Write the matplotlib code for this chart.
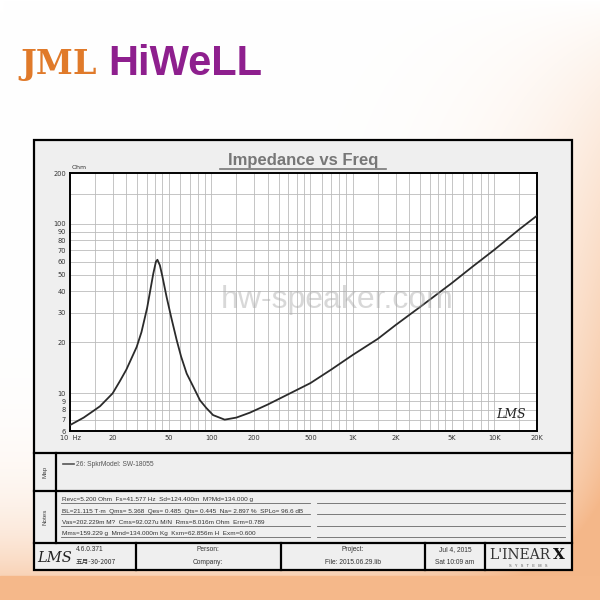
import numpy as np
import matplotlib
matplotlib.use("Agg")
import matplotlib.pyplot as plt

# impedance curve (Hz, Ohm)
freq = [10, 12.5, 15, 16.3, 20, 22.5, 25, 29.6, 32, 35.1, 38.8, 40.5, 41.5, 43.2,
        45, 48.2, 52, 56.8, 61, 66.8, 75, 83, 92, 102.6, 124, 150, 187, 250, 350,
        500, 700, 1000, 1500, 2000, 3000, 5000, 7000, 10000, 15000, 20000]
ohm = [6.5, 7.2, 8.0, 8.4, 10, 11.8, 13.8, 18.8, 23, 32, 51, 60, 61.5, 57,
       49, 37, 28, 20.6, 16.5, 13.1, 10.8, 9.1, 8.2, 7.45, 7.0, 7.2, 7.7, 8.6, 9.9,
       11.5, 13.8, 16.9, 21, 25.3, 32.5, 44.8, 56, 70.5, 93, 112]

x_ticks = [10, 20, 50, 100, 200, 500, 1000, 2000, 5000, 10000, 20000]
x_labels = ["10  Hz", "20", "50", "100", "200", "500", "1K", "2K", "5K", "10K", "20K"]
y_ticks = [6, 7, 8, 9, 10, 20, 30, 40, 50, 60, 70, 80, 90, 100, 200]
y_labels = ["6", "7", "8", "9", "10", "20", "30", "40", "50", "60", "70", "80", "90", "100", "200"]

notes = [
    "Revc=5.200 Ohm  Fs=41.577 Hz  Sd=124.400m  M?Md=134.000 g",
    "BL=21.115 T·m  Qms= 5.368  Qes= 0.485  Qts= 0.445  Na= 2.897 %  SPLo= 96.6 dB",
    "Vas=202.229m M?  Cms=92.027u M/N  Rms=8.016m Ohm  Erm=0.789",
    "Mms=159.229 g  Mmd=134.000m Kg  Kxm=62.856m H  Exm=0.600",
]
legend_text = "26: SpkrModel: SW-18055"

W, H = 600, 600
fig = plt.figure(figsize=(6, 6), dpi=100)

# background layer in pixel coords
bg = fig.add_axes([0, 0, 1, 1])
bg.set_xlim(0, W)
bg.set_ylim(H, 0)
bg.axis("off")

yy, xx = np.mgrid[0:H, 0:W] / 600.0
f = np.clip(0.95 * xx ** 6 * yy ** 0.8 + 0.9 * yy ** 9, 0, 1)
white = np.array([1.0, 1.0, 1.0])
peach = np.array([0.96, 0.72, 0.54])
img = white[None, None, :] * (1 - f[..., None]) + peach[None, None, :] * f[..., None]
bg.imshow(img, extent=(0, W, H, 0), aspect="auto", zorder=0)
bg.add_patch(plt.Rectangle((0, 576), W, 24, color=(0.96, 0.72, 0.54), zorder=1))

# logo
bg.text(20, 74, "JML", color="#e07a2a", fontsize=24, fontweight="bold",
        family="DejaVu Serif", va="baseline", zorder=3)
bg.text(108, 75, "HiWeLL", color="#8e1f8e", fontsize=30, fontweight="bold",
        family="Liberation Sans", va="baseline", zorder=3)

# outer frame and panels
L, R, T, B = 34, 572, 140, 570
lw = 1.6
bg.add_patch(plt.Rectangle((L, T), R - L, B - T, facecolor="#efefef",
                           edgecolor="black", lw=lw, zorder=2))
for y in (453, 491, 543):
    bg.plot([L, R], [y, y], color="black", lw=lw, zorder=3)
bg.plot([56, 56], [453, 543], color="black", lw=lw, zorder=3)
for x in (136, 281, 425, 485):
    bg.plot([x, x], [543, B], color="black", lw=lw, zorder=3)

# title
bg.text(303, 165, "Impedance vs Freq", color="#777777", fontsize=12,
        fontweight="bold", family="Liberation Sans", ha="center", va="baseline", zorder=3)
bg.plot([220, 386], [169, 169], color="#777777", lw=1.2, zorder=3)

# map panel
bg.text(45, 472, "Map", rotation=90, fontsize=4.5, color="#444444",
        ha="center", va="center", family="Liberation Sans", zorder=3)
bg.plot([63, 74], [464, 464], color="#555555", lw=1.2, zorder=3)
bg.text(76, 464, legend_text, fontsize=4.8, color="#555555",
        va="center", family="Liberation Sans", zorder=3)

# notes panel
bg.text(45, 517, "Notes", rotation=90, fontsize=4.5, color="#444444",
        ha="center", va="center", family="Liberation Sans", zorder=3)
for i, line in enumerate(notes):
    yb = 501.5 + i * 11.3
    bg.text(62, yb, line, fontsize=4.6, color="#333333", va="baseline",
            family=["Liberation Sans", "DejaVu Sans"], zorder=3)
    bg.plot([61, 310], [yb + 1.5, yb + 1.5], color="#666666", lw=0.6, zorder=3)
    bg.plot([317, 565], [yb + 1.5, yb + 1.5], color="#666666", lw=0.6, zorder=3)

# footer
bg.text(37, 562, "LMS", fontsize=10.5, style="italic", color="#222222",
        family="DejaVu Serif", va="baseline", zorder=3)
bg.text(76, 551, "4.6.0.371", fontsize=4.8, color="#333333",
        family="Liberation Sans", va="baseline", zorder=3)
bg.text(76, 564, "五月-30-2007", fontsize=4.8, color="#333333",
        family=["Noto Sans CJK SC", "DejaVu Sans"], va="baseline", zorder=3)
for cx, top, bot in ((208, "Person:", "Company:"),
                     (353, "Project:", "File: 2015.06.29.lib"),
                     (455, "Jul 4, 2015", "Sat 10:09 am")):
    bg.text(cx, 551, top, fontsize=4.8, color="#333333", ha="center",
            family="Liberation Sans", va="baseline", zorder=3)
    bg.text(cx, 564, bot, fontsize=4.8, color="#333333", ha="center",
            family="Liberation Sans", va="baseline", zorder=3)
bg.text(489, 559, "L'INEAR", fontsize=10, color="#333333",
        family="DejaVu Serif", va="baseline", zorder=3)
bg.text(553, 559, "X", fontsize=11, color="#111111", fontweight="bold",
        family="DejaVu Serif", va="baseline", zorder=3)
bg.text(528, 567, "S   Y   S   T   E   M   S", fontsize=2.8, color="#555555",
        ha="center", family="Liberation Sans", va="baseline", zorder=3)

# impedance plot
ax = fig.add_axes([70 / W, 1 - 431 / H, 467 / W, 258 / H], zorder=5)
ax.set_facecolor("white")
ax.set_xscale("log")
ax.set_yscale("log")
ax.set_xlim(10, 20000)
ax.set_ylim(6, 200)

grid_x = [m * 10 ** d for d in range(1, 5)
          for m in (1, 1.5, 2, 2.5, 3, 3.5, 4, 4.5, 5, 6, 7, 8, 9)]
for gx in grid_x:
    if 10 < gx < 20000:
        ax.axvline(gx, color="#bbbbbb", lw=0.6, zorder=1)
grid_y = [6, 7, 8, 9, 10, 20, 30, 40, 50, 60, 70, 80, 90, 100, 150]
for gy in grid_y:
    if 6 < gy < 200:
        ax.axhline(gy, color="#bbbbbb", lw=0.6, zorder=1)

ax.plot(freq, ohm, color="#2b2b2b", lw=1.3, zorder=3)

ax.set_xticks(x_ticks)
ax.set_xticklabels(x_labels)
ax.set_yticks(y_ticks)
ax.set_yticklabels(y_labels)
ax.minorticks_off()
ax.tick_params(length=0, labelsize=4.8, labelcolor="#333333", pad=3)
for s in ax.spines.values():
    s.set_color("black")
    s.set_linewidth(1.4)

ax.text(0.003, 1.012, "Ohm", transform=ax.transAxes, fontsize=4.5, color="#333333",
        va="bottom")
ax.text(0.572, 0.508, "hw-speaker.com", transform=ax.transAxes, fontsize=23,
        color="#aaaaaa", alpha=0.45, ha="center", va="center", zorder=4,
        family="Liberation Sans")
ax.text(0.975, 0.04, "LMS", transform=ax.transAxes, fontsize=9, style="italic",
        color="#222222", ha="right", va="bottom", family="DejaVu Serif", zorder=4)

fig.savefig("out.png", dpi=100)
